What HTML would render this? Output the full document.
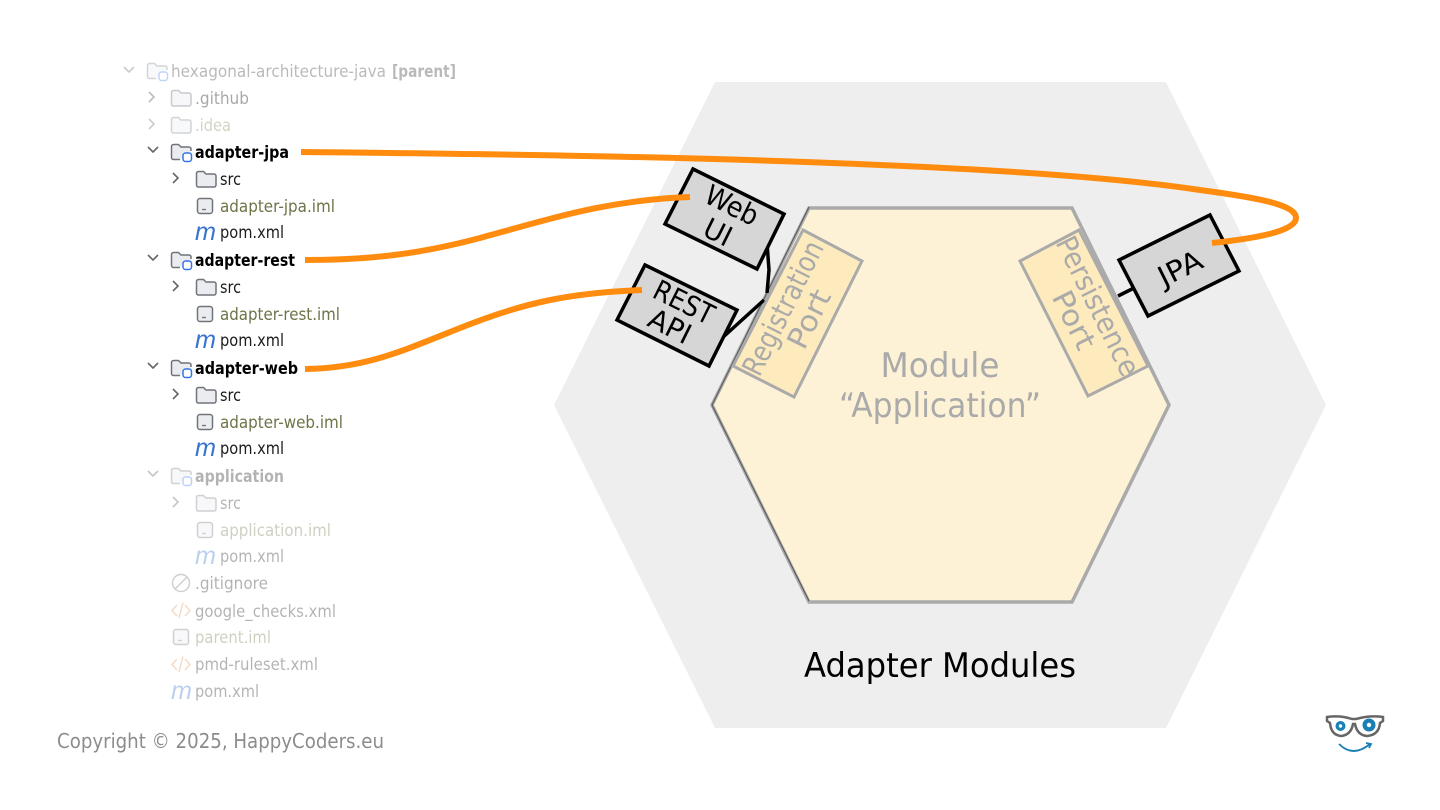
<!DOCTYPE html>
<html><head><meta charset="utf-8"><style>
html,body{margin:0;padding:0;background:#fff;width:1440px;height:810px;overflow:hidden}
svg{display:block}
.t{font-family:"DejaVu Sans",sans-serif;font-size:17px;fill:#1c1c1c}
.b{font-weight:bold}
.d{font-family:"DejaVu Sans",sans-serif}
.m{font-family:"Liberation Sans",sans-serif;font-style:italic;font-size:25px;fill:#3574d0}
</style></head><body>
<svg width="1440" height="810" viewBox="0 0 1440 810" xmlns="http://www.w3.org/2000/svg">
<defs>
<g id="ch" fill="none" stroke="currentColor" stroke-width="1.600"><path d="M-5 -3L0 2L5 -3"/></g>
<g id="cr" fill="none" stroke="currentColor" stroke-width="1.600"><path d="M-3 -5L2 0L-3 5"/></g>
<g id="fo"><path d="M-9.500 -5.500a2 2 0 0 1 2-2h5l2.500 2.500h8a2 2 0 0 1 2 2v9a2 2 0 0 1-2 2h-15.500a2 2 0 0 1-2-2z" fill="#ebecf0" stroke="#6f737a" stroke-width="1.500"/></g>
<g id="mo"><path d="M-1 7.500H-7.500a2 2 0 0 1-2-2V-5.500a2 2 0 0 1 2-2h5l2.500 2.500h8a2 2 0 0 1 2 2v2" fill="#ebecf0" stroke="#6f737a" stroke-width="1.500"/><rect x="2" y="1" width="8.500" height="8.500" rx="2.500" fill="#fff" stroke="#3574f0" stroke-width="1.500"/></g>
<g id="im"><rect x="-7.500" y="-7.500" width="15" height="15" rx="2.500" fill="#ebecf0" stroke="#6f737a" stroke-width="1.500"/><path d="M-3 3.500h4" stroke="#6f737a" stroke-width="1.300"/></g>
<g id="xm" fill="none" stroke="#e0955c" stroke-width="1.500"><path d="M-4 -5L-9 0.500L-4 6M4 -5L9 0.500L4 6M2 -7.500L-2 8"/></g>
<g id="gi" fill="none" stroke="#6f737a" stroke-width="1.500"><circle r="8.500"/><path d="M-6 6L6 -6"/></g>
</defs>

<!-- tree -->
<g class="t">
<g opacity=".3" color="#555">
<use href="#ch" x="129" y="70"/><use href="#mo" x="157" y="71"/>
<text x="171" y="77" textLength="215" lengthAdjust="spacingAndGlyphs">hexagonal-architecture-java</text>
<text x="392" y="77" class="b" textLength="64" lengthAdjust="spacingAndGlyphs">[parent]</text>
</g>
<g opacity=".38" color="#555">
<use href="#cr" x="152" y="97"/><use href="#fo" x="181" y="98"/>
<text x="195" y="104" textLength="54" lengthAdjust="spacingAndGlyphs">.github</text></g>
<g opacity=".3" color="#555">
<use href="#cr" x="152" y="124"/><use href="#fo" x="181" y="125"/>
<text x="195" y="131" textLength="36" lengthAdjust="spacingAndGlyphs" style="fill:#6b7040">.idea</text></g>

<g color="#666">
<use href="#ch" x="153" y="150"/><use href="#mo" x="181" y="152"/>
<text x="195" y="158" class="b" style="fill:#000" textLength="94" lengthAdjust="spacingAndGlyphs">adapter-jpa</text>
<use href="#cr" x="176" y="178"/><use href="#fo" x="206" y="179"/>
<text x="220" y="185" textLength="21" lengthAdjust="spacingAndGlyphs">src</text>
<use href="#im" x="205" y="206"/>
<text x="220" y="212" style="fill:#6f7348" textLength="115" lengthAdjust="spacingAndGlyphs">adapter-jpa.iml</text>
<text x="195" y="240" class="m" textLength="21" lengthAdjust="spacingAndGlyphs">m</text>
<text x="220" y="238" textLength="64" lengthAdjust="spacingAndGlyphs">pom.xml</text>

<use href="#ch" x="153" y="258"/><use href="#mo" x="181" y="260"/>
<text x="195" y="266" class="b" style="fill:#000" textLength="100" lengthAdjust="spacingAndGlyphs">adapter-rest</text>
<use href="#cr" x="176" y="286"/><use href="#fo" x="206" y="287"/>
<text x="220" y="293" textLength="21" lengthAdjust="spacingAndGlyphs">src</text>
<use href="#im" x="205" y="314"/>
<text x="220" y="320" style="fill:#6f7348" textLength="120" lengthAdjust="spacingAndGlyphs">adapter-rest.iml</text>
<text x="195" y="348" class="m" textLength="21" lengthAdjust="spacingAndGlyphs">m</text>
<text x="220" y="346" textLength="64" lengthAdjust="spacingAndGlyphs">pom.xml</text>

<use href="#ch" x="153" y="366"/><use href="#mo" x="181" y="368"/>
<text x="195" y="374" class="b" style="fill:#000" textLength="103" lengthAdjust="spacingAndGlyphs">adapter-web</text>
<use href="#cr" x="176" y="394"/><use href="#fo" x="206" y="395"/>
<text x="220" y="401" textLength="21" lengthAdjust="spacingAndGlyphs">src</text>
<use href="#im" x="205" y="422"/>
<text x="220" y="428" style="fill:#6f7348" textLength="123" lengthAdjust="spacingAndGlyphs">adapter-web.iml</text>
<text x="195" y="456" class="m" textLength="21" lengthAdjust="spacingAndGlyphs">m</text>
<text x="220" y="454" textLength="64" lengthAdjust="spacingAndGlyphs">pom.xml</text>
</g>

<g opacity=".33" color="#555">
<use href="#ch" x="153" y="474"/><use href="#mo" x="181" y="476"/>
<text x="195" y="482" class="b" textLength="89" lengthAdjust="spacingAndGlyphs">application</text>
<use href="#cr" x="176" y="502"/><use href="#fo" x="206" y="503"/>
<text x="220" y="509" textLength="21" lengthAdjust="spacingAndGlyphs">src</text>
<use href="#im" x="205" y="530"/>
<text x="220" y="536" style="fill:#6f7348" textLength="111" lengthAdjust="spacingAndGlyphs">application.iml</text>
<text x="195" y="564" class="m" textLength="21" lengthAdjust="spacingAndGlyphs">m</text>
<text x="220" y="562" textLength="64" lengthAdjust="spacingAndGlyphs">pom.xml</text>
<use href="#gi" x="181" y="583"/>
<text x="195" y="589" textLength="73" lengthAdjust="spacingAndGlyphs">.gitignore</text>
<use href="#xm" x="181" y="610"/>
<text x="195" y="617" textLength="141" lengthAdjust="spacingAndGlyphs">google_checks.xml</text>
<use href="#im" x="181" y="637"/>
<text x="195" y="643" style="fill:#6f7348" textLength="76" lengthAdjust="spacingAndGlyphs">parent.iml</text>
<use href="#xm" x="181" y="664"/>
<text x="195" y="670" textLength="123" lengthAdjust="spacingAndGlyphs">pmd-ruleset.xml</text>
<text x="171" y="699" class="m" textLength="21" lengthAdjust="spacingAndGlyphs">m</text>
<text x="195" y="697" textLength="64" lengthAdjust="spacingAndGlyphs">pom.xml</text>
</g>
</g>

<!-- hexagons -->
<polygon points="715,82 1166,82 1326,405 1166,728 715,728 554,405" fill="#eeeeee"/>
<polygon points="809,208 1072,208 1169,405 1072,602 809,602 712,405" fill="#fdf2d6" stroke="#aaaaaa" stroke-width="3.500"/>
<path d="M809 207L712 405L809 601" fill="none" stroke="#555" stroke-width="1"/>

<!-- connectors -->
<g stroke="#000" stroke-width="3.500" fill="none">
<path d="M767 243L769 270L767 293"/>
<path d="M721 339L764 300"/>
<path d="M1118 296L1134 288"/>
</g>

<!-- ports -->
<polygon points="803,230 862,261 794,397 733,366" fill="#feebbd" stroke="#aaaaaa" stroke-width="3"/>
<polygon points="1079,230 1020,261 1088,396 1148,366" fill="#feebbd" stroke="#aaaaaa" stroke-width="3"/>

<g class="d" fill="#aaaaaa" font-size="29" text-anchor="middle">
<text transform="translate(783,308) rotate(-63.500)" y="10" textLength="146" lengthAdjust="spacingAndGlyphs">Registration</text>
<text transform="translate(809,319) rotate(-63.500)" y="10" textLength="62" lengthAdjust="spacingAndGlyphs">Port</text>
<text transform="translate(1098,306) rotate(63.500)" y="10" textLength="152" lengthAdjust="spacingAndGlyphs">Persistence</text>
<text transform="translate(1074,320) rotate(63.500)" y="10" textLength="62" lengthAdjust="spacingAndGlyphs">Port</text>
<text x="940" y="377" font-size="34" textLength="119" lengthAdjust="spacingAndGlyphs">Module</text>
<text x="940" y="417" font-size="34" textLength="202" lengthAdjust="spacingAndGlyphs">“Application”</text>
</g>
<text class="d" x="940" y="677" font-size="34" text-anchor="middle" textLength="272" lengthAdjust="spacingAndGlyphs">Adapter Modules</text>

<!-- boxes -->
<g fill="#d6d6d6" stroke="#000" stroke-width="3.500" stroke-linejoin="miter">
<polygon points="693,169 784,214 757,269 665,224"/>
<polygon points="645,265 737,310 709,366 617,320"/>
<polygon points="1210,215 1239,271 1148,316 1119,260"/>
</g>
<g class="d" fill="#000" font-size="28" text-anchor="middle">
<text transform="translate(732,205) rotate(26.500)" y="10" textLength="56" lengthAdjust="spacingAndGlyphs">Web</text>
<text transform="translate(718,232) rotate(26.500)" y="10" textLength="28" lengthAdjust="spacingAndGlyphs">UI</text>
<text transform="translate(684,302) rotate(26.500)" y="10" textLength="64" lengthAdjust="spacingAndGlyphs">REST</text>
<text transform="translate(670,326) rotate(26.500)" y="10" textLength="44" lengthAdjust="spacingAndGlyphs">API</text>
<text transform="translate(1180,268) rotate(-26.500)" y="10" textLength="46" lengthAdjust="spacingAndGlyphs">JPA</text>
</g>

<!-- orange -->
<g fill="none" stroke="#ff8c0e" stroke-width="6">
<path d="M301 152C500 154 700 157 880 165C1000 170 1120 178 1200 190C1260 198 1296 205 1296 218C1296 232 1250 239 1212 243"/>
<path d="M305 260C370 260 420 254 480 238C560 216 610 200 690 197"/>
<path d="M305 369C365 368 400 352 460 328C525 302 570 293 642 290"/>
</g>

<!-- footer -->
<text class="d" x="57" y="748" font-size="20" fill="#8c8c8c" textLength="327" lengthAdjust="spacingAndGlyphs">Copyright © 2025, HappyCoders.eu</text>

<!-- logo -->
<g>
<path d="M1327 717Q1340 715 1352 719L1356 719Q1370 715 1383 717L1383 721L1380 723Q1379 735 1367 736Q1357 735 1355 724L1353 724Q1351 735 1341 736Q1331 735 1330 723L1327 721Z" fill="#fff" stroke="#666" stroke-width="2.500"/>
<circle cx="1340.500" cy="726" r="5" fill="#1a7fb5"/><circle cx="1340.500" cy="726" r="1.700" fill="#fff"/>
<circle cx="1369" cy="725" r="6.500" fill="#1a7fb5"/><circle cx="1369" cy="725" r="2.200" fill="#fff"/>
<path d="M1339 744Q1353 758 1370 744M1366 743L1371 744L1369 748" fill="none" stroke="#1a7fb5" stroke-width="1.800"/>
</g>
</svg>
</body></html>
